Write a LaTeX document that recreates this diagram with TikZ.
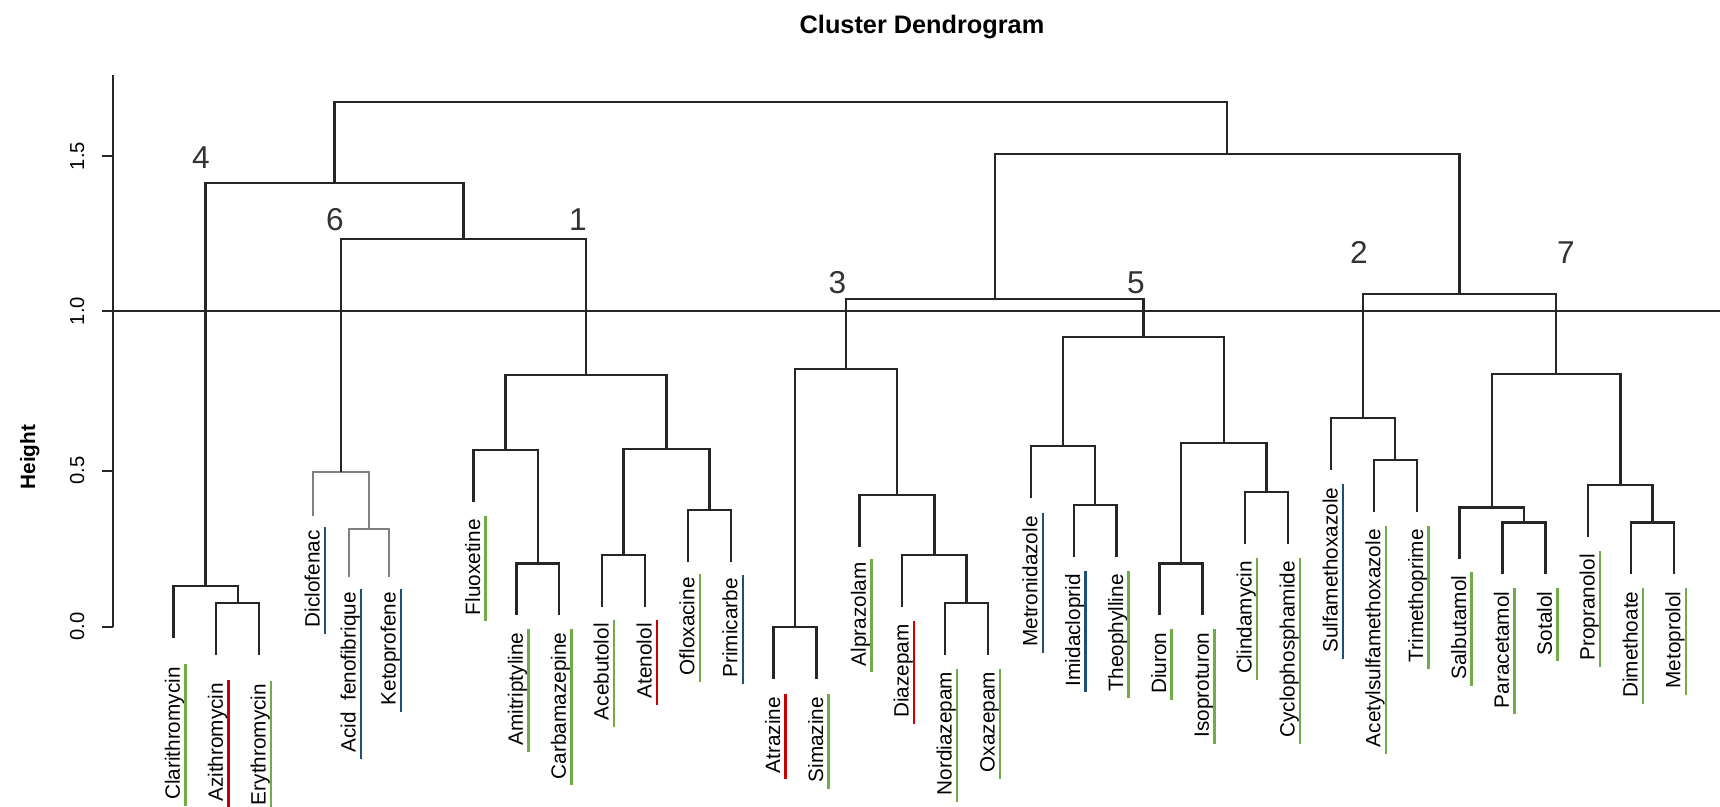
\documentclass[tikz,border=0pt]{standalone}
\usepackage{fontspec}
\setmainfont{Liberation Sans}
\usetikzlibrary{calc}

\definecolor{leafgreen}{RGB}{112,173,71}
\definecolor{leafred}{RGB}{204,0,0}
\definecolor{leafblue}{RGB}{31,78,121}

\tikzset{
  branch/.style={line width=1.35pt, black!85},
  faded/.style={line width=1.35pt, black!50},
  leaflabel/.style={rotate=90, anchor=base east, inner sep=0pt, font=\fontsize{11.8}{12}\selectfont},
  underbar/.style={line width=1.4pt},
  ticklabel/.style={rotate=90, anchor=base, inner sep=0pt, font=\fontsize{11.5}{12}\selectfont},
  clusternum/.style={anchor=base, inner sep=0pt, font=\fontsize{18}{20}\selectfont, black!80}
}

% elbow between two children, joined at height #5
\newcommand{\joinpair}[5][branch]{%
  \path ($(#3)!0.5!(#4)$) coordinate (#2m);
  \coordinate (#2) at (#2m |- 0,#5);
  \draw[#1] (#3) |- (#2) -| (#4);
}

\begin{document}
\begin{tikzpicture}[x={(0.02cm,0)}, y={(0,-0.02cm)}]
  \useasboundingbox (0,0) rectangle (1720,806);

  % title and axis
  \node[anchor=base, inner sep=0pt, font=\fontsize{14.4}{16}\selectfont\bfseries] (title) at (922,33) {Cluster Dendrogram};
  \node[ticklabel, font=\fontsize{11.8}{12}\selectfont\bfseries] (ylab) at (35,457) {Height};
  \draw[branch] (113,75) -- (113,626.7);
  \foreach \ty/\tl [count=\i] in {626.7/0.0, 470.7/0.5, 311/1.0, 156/1.5} {
    \draw[branch] (102,\ty) -- (113,\ty);
    \node[ticklabel] (tick\i) at (84,\ty) {\tl};
  }

  % leaves with their labels
  \foreach \nm/\px/\py/\gap/\col/\txt in {
    clar/173.4/638/29/leafgreen/Clarithromycin,
    azit/216.3/654.7/28/leafred/Azithromycin,
    eryt/259.2/654.7/29/leafgreen/Erythromycin,
    dicl/313/516/14/leafblue/Diclofenac,
    acid/349/577/15/leafblue/Acid~~fenofibrique,
    keto/389/577/15/leafblue/Ketoprofene,
    fluo/473.5/502/17/leafgreen/Fluoxetine,
    amit/516.4/615.3/17/leafgreen/Amitriptyline,
    carb/559.3/615.3/17/leafgreen/Carbamazepine,
    aceb/602.1/607/16/leafgreen/Acebutolol,
    aten/645.0/607/16/leafred/Atenolol,
    oflo/687.9/562/15/leafgreen/Ofloxacine,
    prim/730.8/562/16/leafblue/Primicarbe,
    atra/773.6/678.7/18/leafred/Atrazine,
    sima/816.5/678.7/18/leafgreen/Simazine,
    alpr/859.4/547/15/leafgreen/Alprazolam,
    diaz/902.2/607/17/leafred/Diazepam,
    nord/945.1/654.7/17/leafgreen/Nordiazepam,
    oxaz/988.0/654.7/17/leafgreen/Oxazepam,
    metr/1030.9/498/18/leafblue/Metronidazole,
    imid/1073.7/557/17/leafblue/Imidacloprid,
    theo/1116.6/557/17/leafgreen/Theophylline,
    diur/1159.5/615.3/17/leafgreen/Diuron,
    isop/1202.3/615.3/17/leafgreen/Isoproturon,
    clin/1245.2/543.7/17/leafgreen/Clindamycin,
    cycl/1288.1/543.7/17/leafgreen/Cyclophosphamide,
    sulf/1331.0/470.3/17/leafblue/Sulfamethoxazole,
    acet/1373.8/512/17/leafgreen/Acetylsulfamethoxazole,
    trim/1416.7/512/17/leafgreen/Trimethoprime,
    salb/1459.6/559.3/16/leafgreen/Salbutamol,
    para/1502.4/574.3/17/leafgreen/Paracetamol,
    sota/1545.3/574.3/17/leafgreen/Sotalol,
    prop/1588.2/537/17/leafgreen/Propranolol,
    dime/1631.0/574.3/17/leafgreen/Dimethoate,
    meto/1673.8/574.3/17/leafgreen/Metoprolol} {
    \coordinate (\nm) at (\px,\py);
    \node[leaflabel] (l\nm) at (\px+6.5,\py+\gap) {\txt};
    \draw[underbar,\col] ([xshift=0.11cm,yshift=0.06cm]l\nm.base east) -- ([xshift=0.11cm,yshift=-0.12cm]l\nm.base west);
  }

  % tree
  \joinpair{jae}{azit}{eryt}{602.7}
  \joinpair{jc4}{clar}{jae}{586}
  \joinpair[faded]{jak}{acid}{keto}{529}
  \joinpair[faded]{jdak}{dicl}{jak}{471.7}
  \joinpair{jac}{amit}{carb}{563.3}
  \joinpair{jfac}{fluo}{jac}{450}
  \joinpair{jaa}{aceb}{aten}{555}
  \joinpair{jop}{oflo}{prim}{510}
  \joinpair{jaaop}{jaa}{jop}{449.3}
  \joinpair{jc1}{jfac}{jaaop}{375}
  \joinpair{jc6}{jdak}{jc1}{238.7}
  \joinpair{jc46}{jc4}{jc6}{182.7}
  \joinpair{jas}{atra}{sima}{626.7}
  \joinpair{jno}{nord}{oxaz}{602.7}
  \joinpair{jdno}{diaz}{jno}{555}
  \joinpair{jadno}{alpr}{jdno}{495}
  \joinpair{jc3}{jas}{jadno}{369.3}
  \joinpair{jit}{imid}{theo}{505}
  \joinpair{jmit}{metr}{jit}{446}
  \joinpair{jdi}{diur}{isop}{563.3}
  \joinpair{jcc}{clin}{cycl}{491.7}
  \joinpair{jdicc}{jdi}{jcc}{443.3}
  \joinpair{jc5}{jmit}{jdicc}{337}
  \joinpair{jc35}{jc3}{jc5}{299}
  \joinpair{jat}{acet}{trim}{460}
  \joinpair{jc2}{sulf}{jat}{418.3}
  \joinpair{jps}{para}{sota}{522.3}
  \joinpair{jsps}{salb}{jps}{507.3}
  \joinpair{jdm}{dime}{meto}{522.3}
  \joinpair{jpdm}{prop}{jdm}{485}
  \joinpair{jc7}{jsps}{jpdm}{374.3}
  \joinpair{jc27}{jc2}{jc7}{294.3}
  \joinpair{jright}{jc35}{jc27}{154}
  \joinpair{jroot}{jc46}{jright}{102.3}

  % cut at height 1
  \draw[branch] (102,311) -- (1720,311);

  % cluster numbers
  \node[clusternum] (k4) at (201,168) {4};
  \node[clusternum] (k6) at (335,230) {6};
  \node[clusternum] (k1) at (578,230) {1};
  \node[clusternum] (k3) at (837.5,293) {3};
  \node[clusternum] (k5) at (1136,293) {5};
  \node[clusternum] (k2) at (1359,263) {2};
  \node[clusternum] (k7) at (1566,263) {7};
\end{tikzpicture}
\end{document}
